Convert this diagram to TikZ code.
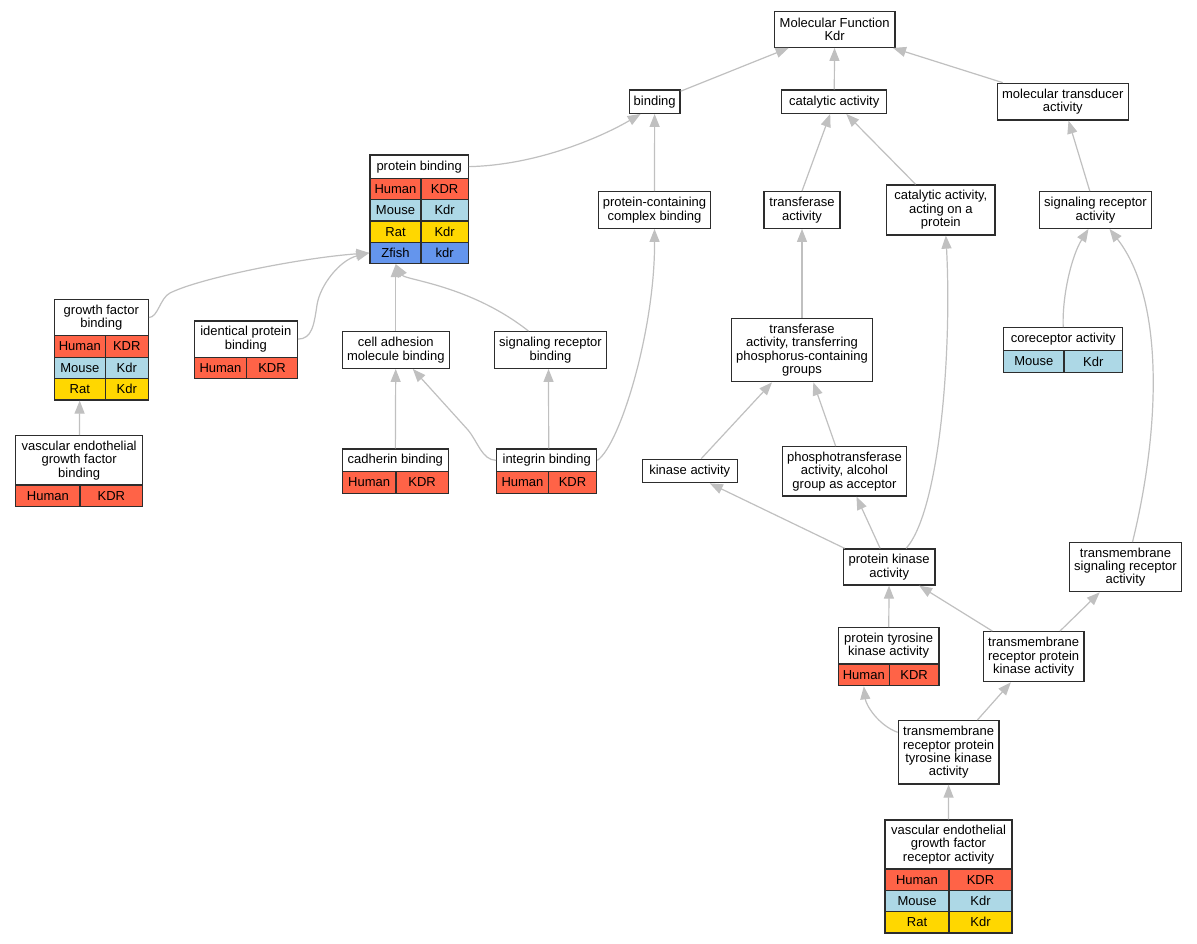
\documentclass[tikz,border=0pt]{standalone}
\usepackage{fontspec}
\setmainfont{Liberation Sans}
\usetikzlibrary{arrows.meta,calc}
\definecolor{human}{RGB}{255,99,71}
\definecolor{mouse}{RGB}{173,216,230}
\definecolor{rat}{RGB}{255,215,0}
\definecolor{zfish}{RGB}{100,149,237}
\definecolor{edgec}{RGB}{192,192,192}
\definecolor{bord}{RGB}{45,45,45}
\newcommand\bx[6]{\node[box, minimum width={#4-#2}, minimum height={#5-#3}] (#1) at ({(#2+#4)/2},{(#3+#5)/2}) {#6};}
\newcommand\cl[7]{\node[box, fill=#6, minimum width={#4-#2}, minimum height={#5-#3}] (#1) at ({(#2+#4)/2},{(#3+#5)/2}) {#7};}
\begin{document}
\begin{tikzpicture}[x=1pt,y=-1pt,
  box/.style={draw=bord, line width=1.3pt, fill=white, inner sep=0pt, align=center,
    font=\fontsize{13}{13.4}\selectfont},
  edge/.style={draw=edgec, line width=1.2pt, -{Triangle[length=13pt,width=10pt]}}]
\fill[white] (0,0) rectangle (1197,944);
\useasboundingbox (0,0) rectangle (1197,944);
% nodes
\bx{mf}{774.3}{11.7}{895}{47.3}{Molecular Function\\Kdr}
\bx{binding}{629.3}{90}{680}{113.3}{binding}
\bx{cat}{781.7}{90}{886.7}{113.3}{catalytic activity}
\bx{mt}{997.3}{83.3}{1128.3}{120}{molecular transducer\\activity}
\bx{pb}{370}{155}{468.3}{178.3}{protein binding}
\cl{pbHa}{370}{178.3}{421}{199.6}{human}{Human}
\cl{pbHb}{421}{178.3}{468.3}{199.6}{human}{KDR}
\cl{pbMa}{370}{199.6}{421}{221}{mouse}{Mouse}
\cl{pbMb}{421}{199.6}{468.3}{221}{mouse}{Kdr}
\cl{pbRa}{370}{221}{421}{242.3}{rat}{Rat}
\cl{pbRb}{421}{221}{468.3}{242.3}{rat}{Kdr}
\cl{pbZa}{370}{242.3}{421}{263.5}{zfish}{Zfish}
\cl{pbZb}{421}{242.3}{468.3}{263.5}{zfish}{kdr}
\bx{pcc}{598.3}{191.7}{710.7}{228.3}{protein-containing\\complex binding}
\bx{ta}{764}{191.7}{840}{228.3}{transferase\\activity}
\bx{caop}{886.7}{185}{995}{235}{catalytic activity,\\acting on a\\protein}
\bx{sra}{1039.3}{191.7}{1151.7}{228.3}{signaling receptor\\activity}
\bx{gfb}{54.3}{299.3}{148.3}{335.7}{growth factor\\binding}
\cl{gfbHa}{54.3}{335.7}{105.3}{357.2}{human}{Human}
\cl{gfbHb}{105.3}{335.7}{148.3}{357.2}{human}{KDR}
\cl{gfbMa}{54.3}{357.2}{105.3}{378.6}{mouse}{Mouse}
\cl{gfbMb}{105.3}{357.2}{148.3}{378.6}{mouse}{Kdr}
\cl{gfbRa}{54.3}{378.6}{105.3}{400}{rat}{Rat}
\cl{gfbRb}{105.3}{378.6}{148.3}{400}{rat}{Kdr}
\bx{ipb}{194.3}{321}{297.3}{357.3}{identical protein\\binding}
\cl{ipbHa}{194.3}{357.3}{246.7}{378.7}{human}{Human}
\cl{ipbHb}{246.7}{357.3}{297.3}{378.7}{human}{KDR}
\bx{cam}{342.3}{331.7}{449.3}{368.3}{cell adhesion\\molecule binding}
\bx{srb}{494.3}{331.7}{606.7}{368.3}{signaling receptor\\binding}
\bx{trp}{731.7}{318.3}{872.3}{381.7}{transferase\\activity, transferring\\phosphorus-containing\\groups}
\bx{cor}{1003.7}{327.7}{1122.7}{350.7}{coreceptor activity}
\cl{corMa}{1003.7}{350.7}{1064}{372.3}{mouse}{Mouse}
\cl{corMb}{1064}{350.7}{1122.7}{372.3}{mouse}{Kdr}
\bx{vegfb}{15.7}{435.7}{142.7}{485}{vascular endothelial\\growth factor\\binding}
\cl{vegfbHa}{15.7}{485}{80}{506.5}{human}{Human}
\cl{vegfbHb}{80}{485}{142.7}{506.5}{human}{KDR}
\bx{cad}{342.3}{449}{448.3}{471.7}{cadherin binding}
\cl{cadHa}{342.3}{471.7}{396}{493.3}{human}{Human}
\cl{cadHb}{396}{471.7}{448.3}{493.3}{human}{KDR}
\bx{int}{496.7}{449}{596.7}{471.7}{integrin binding}
\cl{intHa}{496.7}{471.7}{548.3}{493.3}{human}{Human}
\cl{intHb}{548.3}{471.7}{596.7}{493.3}{human}{KDR}
\bx{ka}{642.3}{459.3}{737.3}{482.7}{kinase activity}
\bx{phos}{782.3}{446.7}{906.7}{496}{phosphotransferase\\activity, alcohol\\group as acceptor}
\bx{pk}{843.3}{549}{935}{585}{protein kinase\\activity}
\bx{tmsr}{1069.3}{542.7}{1181.7}{591.7}{transmembrane\\signaling receptor\\activity}
\bx{ptk}{838.3}{627.7}{939}{664}{protein tyrosine\\kinase activity}
\cl{ptkHa}{838.3}{664}{889.3}{685.7}{human}{Human}
\cl{ptkHb}{889.3}{664}{939}{685.7}{human}{KDR}
\bx{tmrpk}{983.3}{631.7}{1084}{681.7}{transmembrane\\receptor protein\\kinase activity}
\bx{tmrptk}{898.3}{720.7}{999}{784}{transmembrane\\receptor protein\\tyrosine kinase\\activity}
\bx{vegfr}{885}{820}{1012}{869}{vascular endothelial\\growth factor\\receptor activity}
\cl{vegfrHa}{885}{869}{949}{890.3}{human}{Human}
\cl{vegfrHb}{949}{869}{1012}{890.3}{human}{KDR}
\cl{vegfrMa}{885}{890.3}{949}{911.6}{mouse}{Mouse}
\cl{vegfrMb}{949}{890.3}{1012}{911.6}{mouse}{Kdr}
\cl{vegfrRa}{885}{911.6}{949}{933}{rat}{Rat}
\cl{vegfrRb}{949}{911.6}{1012}{933}{rat}{Kdr}
% edges
\draw[edge] (binding) -- (mf);
\draw[edge] (cat) -- (mf);
\draw[edge] (mt) -- (mf);
\draw[edge] (pb.east) .. controls (540,165) and (605,135) .. ($(binding.south)+(-14,0)$);
\draw[edge] (pcc) -- (binding);
\draw[edge] (ta.north) -- ($(cat.south)+(-4,0)$);
\draw[edge] (caop) -- (cat);
\draw[edge] (sra) -- (mt);
\draw[edge] (gfb.east) .. controls (158,317.5) and (160,298) .. (170,293) .. controls (200,278) and (300,258) .. (pbZa.west);
\draw[edge] (ipb.east) .. controls (312,339) and (314,325) .. (317,305) .. controls (320,285) and (340,260) .. (pbZa.west);
\draw[edge] (cam) -- (cam |- pbZa.south);
\draw[edge] ($(srb.north)+(-22,0)$) .. controls (470,285) and (405,280) .. (cam |- pbZa.south);
\draw[edge] (vegfb) -- (gfbRa);
\draw[edge] (cad) -- (cam);
\draw[edge] (int.west) .. controls (482,460) and (478,442) .. (468,430) -- ($(cam.south)+(17,0)$);
\draw[edge] ($(int.north)+(2,0)$) -- ($(srb.south)+(-2,0)$);
\draw[edge] (int.east) .. controls (620,445) and (655,330) .. (pcc.south);
\draw[edge] (trp) -- (ta);
\draw[edge] (ka) -- (trp);
\draw[edge] (phos) -- (trp);
\draw[edge] ($(pk.north west)+(2,0)$) -- ($(ka.south)+(20,0)$);
\draw[edge] ($(pk.north)+(-9,0)$) -- ($(phos.south)+(12,0)$);
\draw[edge] ($(pk.north)+(17,0)$) .. controls (940,510) and (952,350) .. ($(caop.south)+(5,0)$);
\draw[edge] (cor.north) .. controls (1062,295) and (1072,255) .. ($(sra.south)+(-7,0)$);
\draw[edge] ($(tmsr.north)+(7,0)$) .. controls (1160,430) and (1165,300) .. ($(sra.south)+(14,0)$);
\draw[edge] (ptk) -- (pk);
\draw[edge] (tmrpk) -- (pk);
\draw[edge] (tmrpk) -- (tmsr);
\draw[edge] ($(tmrptk.west)+(0,-20)$) .. controls (878,725) and (866,705) .. (ptkHa.south);
\draw[edge] (tmrptk) -- (tmrpk);
\draw[edge] (vegfr) -- (tmrptk);
\end{tikzpicture}
\end{document}
